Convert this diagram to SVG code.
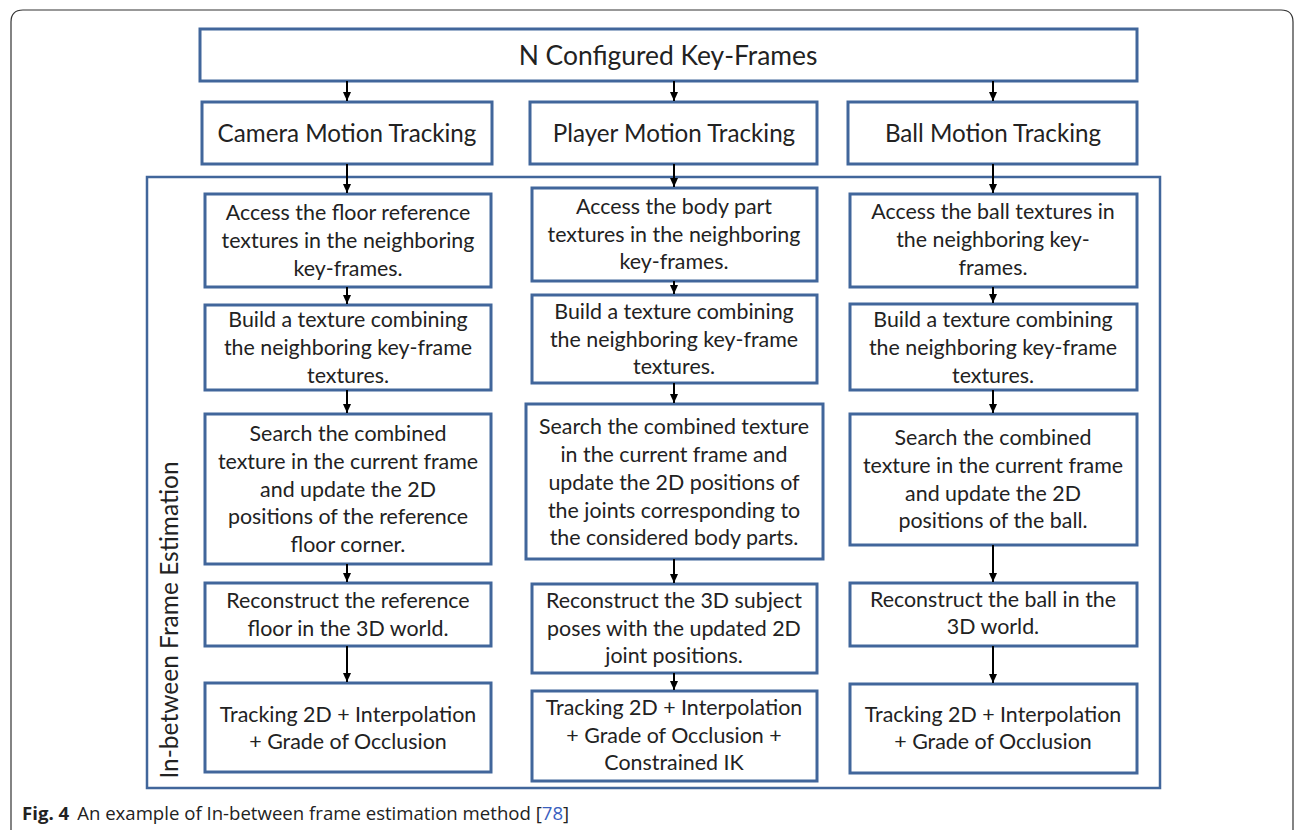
<svg xmlns="http://www.w3.org/2000/svg" width="1295" height="830" viewBox="0 0 1295 830">
<style>
.box{fill:#fff;stroke:#41669b;stroke-width:3}
.cont{fill:none;stroke:#41669b;stroke-width:2.5}
.t{font-family:Lato,"Open Sans",sans-serif;font-size:21.4px;fill:#222;text-anchor:middle}
.mid{font-size:24.2px}
.big{font-size:26.4px}
.side{font-size:24.5px}
.cap{font-family:"Open Sans","Noto Sans",sans-serif;font-size:18.6px;fill:#222}
.arr{stroke:#000;stroke-width:2;fill:none;marker-end:url(#ah)}
</style>
<defs>
<marker id="ah" markerUnits="userSpaceOnUse" markerWidth="10" markerHeight="10" refX="9" refY="5" orient="auto">
<path d="M0,1 L9,5 L0,9 Z" fill="#000"/>
</marker>
</defs>
<rect width="1295" height="830" fill="#fff"/>
<path d="M11,830 V22 Q11,10 23,10 H1281 Q1293,10 1293,22 V830" fill="none" stroke="#333" stroke-width="1.2"/>

<g id="container">
<rect class="cont" x="147" y="177" width="1013" height="611"/>
<text class="t side" transform="translate(178,620) rotate(-90)">In-between Frame Estimation</text>
</g>

<g id="keyframes"><rect class="box" x="200" y="29" width="937" height="52"/><text class="t big" x="668" y="65">N Configured Key-Frames</text></g>

<g id="camera"><rect class="box" x="202" y="102" width="290" height="62"/><text class="t mid" x="347" y="142">Camera Motion Tracking</text></g>
<g id="player"><rect class="box" x="530" y="102" width="287" height="62"/><text class="t mid" x="674" y="142">Player Motion Tracking</text></g>
<g id="ball"><rect class="box" x="848" y="102" width="289" height="62"/><text class="t mid" x="993" y="142">Ball Motion Tracking</text></g>

<g id="c1b1"><rect class="box" x="205" y="194" width="286" height="93"/><text class="t" x="348"><tspan x="348" y="220">Access the floor reference</tspan><tspan x="348" y="248">textures in the neighboring</tspan><tspan x="348" y="276">key-frames.</tspan></text></g>
<g id="c1b2"><rect class="box" x="205" y="305" width="286" height="85"/><text class="t"><tspan x="348" y="327">Build a texture combining</tspan><tspan x="348" y="355">the neighboring key-frame</tspan><tspan x="348" y="383">textures.</tspan></text></g>
<g id="c1b3"><rect class="box" x="205" y="414" width="286" height="150"/><text class="t"><tspan x="348" y="441">Search the combined</tspan><tspan x="348" y="469">texture in the current frame</tspan><tspan x="348" y="497">and update the 2D</tspan><tspan x="348" y="524">positions of the reference</tspan><tspan x="348" y="552">floor corner.</tspan></text></g>
<g id="c1b4"><rect class="box" x="205" y="583" width="286" height="63"/><text class="t"><tspan x="348" y="608">Reconstruct the reference</tspan><tspan x="348" y="636">floor in the 3D world.</tspan></text></g>
<g id="c1b5"><rect class="box" x="205" y="683" width="286" height="89"/><text class="t"><tspan x="348" y="722">Tracking 2D + Interpolation</tspan><tspan x="348" y="749">+ Grade of Occlusion</tspan></text></g>

<g id="c2b1"><rect class="box" x="532" y="188" width="285" height="93"/><text class="t"><tspan x="674" y="214">Access the body part</tspan><tspan x="674" y="242">textures in the neighboring</tspan><tspan x="674" y="269">key-frames.</tspan></text></g>
<g id="c2b2"><rect class="box" x="532" y="295" width="285" height="88"/><text class="t"><tspan x="674" y="319">Build a texture combining</tspan><tspan x="674" y="347">the neighboring key-frame</tspan><tspan x="674" y="374">textures.</tspan></text></g>
<g id="c2b3"><rect class="box" x="526" y="404" width="297" height="155"/><text class="t"><tspan x="674" y="434">Search the combined texture</tspan><tspan x="674" y="462">in the current frame and</tspan><tspan x="674" y="490">update the 2D positions of</tspan><tspan x="674" y="518">the joints corresponding to</tspan><tspan x="674" y="545">the considered body parts.</tspan></text></g>
<g id="c2b4"><rect class="box" x="532" y="584" width="285" height="89"/><text class="t"><tspan x="674" y="608">Reconstruct the 3D subject</tspan><tspan x="674" y="636">poses with the updated 2D</tspan><tspan x="674" y="663">joint positions.</tspan></text></g>
<g id="c2b5"><rect class="box" x="532" y="691" width="285" height="90"/><text class="t"><tspan x="674" y="715">Tracking 2D + Interpolation</tspan><tspan x="674" y="743">+ Grade of Occlusion +</tspan><tspan x="674" y="770">Constrained IK</tspan></text></g>

<g id="c3b1"><rect class="box" x="850" y="194" width="287" height="93"/><text class="t"><tspan x="993" y="219">Access the ball textures in</tspan><tspan x="993" y="247">the neighboring key-</tspan><tspan x="993" y="275">frames.</tspan></text></g>
<g id="c3b2"><rect class="box" x="850" y="304" width="287" height="86"/><text class="t"><tspan x="993" y="327">Build a texture combining</tspan><tspan x="993" y="355">the neighboring key-frame</tspan><tspan x="993" y="383">textures.</tspan></text></g>
<g id="c3b3"><rect class="box" x="850" y="414" width="287" height="131"/><text class="t"><tspan x="993" y="445">Search the combined</tspan><tspan x="993" y="473">texture in the current frame</tspan><tspan x="993" y="501">and update the 2D</tspan><tspan x="993" y="528">positions of the ball.</tspan></text></g>
<g id="c3b4"><rect class="box" x="850" y="583" width="287" height="63"/><text class="t"><tspan x="993" y="607">Reconstruct the ball in the</tspan><tspan x="993" y="634">3D world.</tspan></text></g>
<g id="c3b5"><rect class="box" x="850" y="684" width="287" height="89"/><text class="t"><tspan x="993" y="722">Tracking 2D + Interpolation</tspan><tspan x="993" y="749">+ Grade of Occlusion</tspan></text></g>

<g id="connectors">
<line class="arr" x1="347" y1="81" x2="347" y2="101"/>
<line class="arr" x1="674" y1="81" x2="674" y2="101"/>
<line class="arr" x1="993" y1="81" x2="993" y2="101"/>
<line class="arr" x1="347" y1="164" x2="347" y2="193"/>
<line class="arr" x1="674" y1="164" x2="674" y2="187"/>
<line class="arr" x1="993" y1="164" x2="993" y2="193"/>
<line class="arr" x1="347" y1="287" x2="347" y2="304"/>
<line class="arr" x1="347" y1="390" x2="347" y2="413"/>
<line class="arr" x1="347" y1="564" x2="347" y2="582"/>
<line class="arr" x1="347" y1="646" x2="347" y2="682"/>
<line class="arr" x1="674" y1="281" x2="674" y2="294"/>
<line class="arr" x1="674" y1="383" x2="674" y2="403"/>
<line class="arr" x1="674" y1="559" x2="674" y2="583"/>
<line class="arr" x1="674" y1="673" x2="674" y2="690"/>
<line class="arr" x1="993" y1="287" x2="993" y2="303"/>
<line class="arr" x1="993" y1="390" x2="993" y2="413"/>
<line class="arr" x1="993" y1="545" x2="993" y2="582"/>
<line class="arr" x1="993" y1="646" x2="993" y2="683"/>
</g>

<text class="cap" x="22" y="820"><tspan font-weight="bold">Fig. 4</tspan><tspan dx="8">An example of In-between frame estimation method [</tspan><tspan fill="#3b5fc0">78</tspan><tspan>]</tspan></text>
</svg>
